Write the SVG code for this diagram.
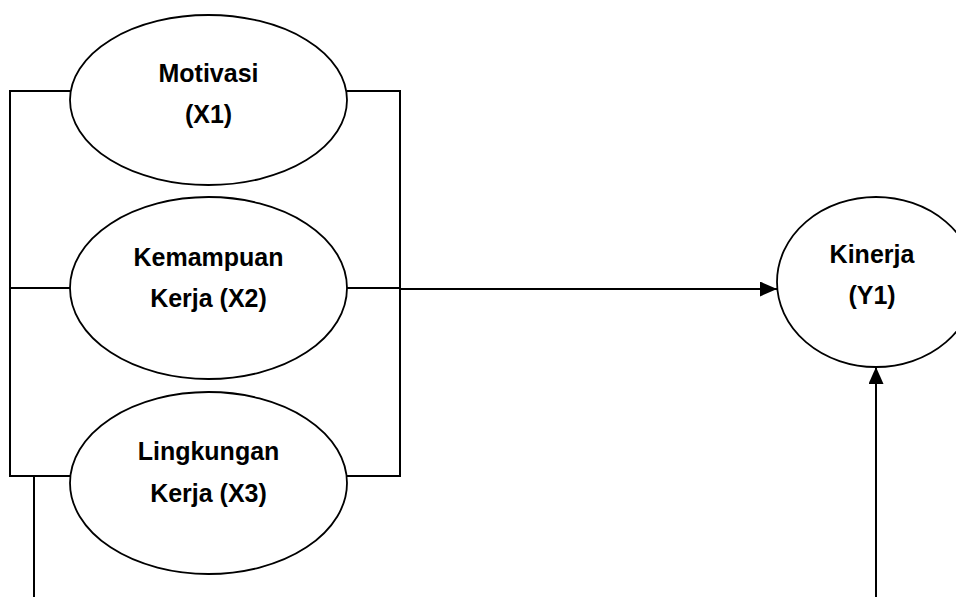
<svg xmlns="http://www.w3.org/2000/svg" width="956" height="597" viewBox="0 0 956 597">
<style>
.node{fill:#fff;stroke:#000;stroke-width:1.8}
.conn{fill:none;stroke:#000;stroke-width:2}
.lbl{font-family:"Liberation Sans",Arial,sans-serif;font-weight:bold;font-size:25px;fill:#000;text-anchor:middle}
</style>
<defs>
<marker id="arr" markerWidth="17" markerHeight="15" refX="17" refY="7.5" orient="auto" markerUnits="userSpaceOnUse">
<path d="M0,0 L17,7.5 L0,15 Z" fill="#000"/>
</marker>
</defs>
<rect width="956" height="597" fill="#fff"/>
<g id="connectors">
<polyline class="conn" points="70,91 10,91 10,476 70,476"/>
<line class="conn" x1="10" y1="288" x2="70" y2="288"/>
<polyline class="conn" points="347,91 400,91 400,476 347,476"/>
<line class="conn" x1="347" y1="288" x2="400" y2="288"/>
<line class="conn" x1="400" y1="289" x2="777" y2="289" marker-end="url(#arr)"/>
<line class="conn" x1="34" y1="476" x2="34" y2="597"/>
<line class="conn" x1="876" y1="597" x2="876" y2="367" marker-end="url(#arr)"/>
</g>
<g id="motivasi">
<ellipse class="node" cx="208.5" cy="100" rx="138.5" ry="85"/>
<text class="lbl" x="208.5" y="82">Motivasi</text>
<text class="lbl" x="208.5" y="123">(X1)</text>
</g>
<g id="kemampuan">
<ellipse class="node" cx="208.5" cy="288" rx="138.5" ry="91"/>
<text class="lbl" x="208.5" y="266">Kemampuan</text>
<text class="lbl" x="208.5" y="307">Kerja (X2)</text>
</g>
<g id="lingkungan">
<ellipse class="node" cx="208.5" cy="483" rx="138.5" ry="91"/>
<text class="lbl" x="208.5" y="460">Lingkungan</text>
<text class="lbl" x="208.5" y="502">Kerja (X3)</text>
</g>
<g id="kinerja">
<ellipse class="node" cx="876" cy="282" rx="99" ry="85"/>
<text class="lbl" x="872" y="263">Kinerja</text>
<text class="lbl" x="872" y="304">(Y1)</text>
</g>
</svg>
